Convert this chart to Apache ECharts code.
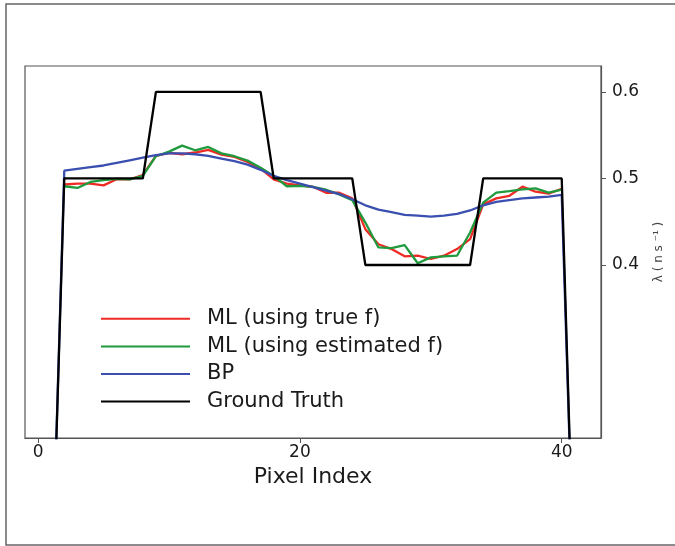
<!DOCTYPE html>
<html>
<head>
<meta charset="utf-8">
<script src="https://cdn.jsdelivr.net/npm/echarts@6/dist/echarts.min.js"></script>
<style>
  html, body { margin: 0; padding: 0; background: #fff; }
  #chart { width: 675px; height: 546px; }
</style>
</head>
<body>
<div id="chart"></div>
<script>
// Pixel positions of the reconstructed profiles
const mlPixels = [2, 3, 4, 5, 6, 7, 8, 9, 10, 11, 12, 13, 14, 15, 16, 17, 18, 19, 20, 21,
                  22, 23, 24, 25, 26, 27, 28, 29, 30, 31, 32, 33, 34, 35, 36, 37, 38, 39, 40];

// ML estimate with the true f
const mlTrueF = [0.493, 0.494, 0.494, 0.492, 0.499, 0.499, 0.504, 0.526, 0.5295, 0.528,
                 0.530, 0.533, 0.5276, 0.525, 0.519, 0.5115, 0.499, 0.494, 0.492, 0.4904,
                 0.4835, 0.4835, 0.477, 0.4414, 0.424, 0.4184, 0.410, 0.4107, 0.4069, 0.4107,
                 0.4184, 0.4299, 0.470, 0.477, 0.480, 0.4905, 0.4847, 0.4824, 0.4881];

// ML estimate with the estimated f
const mlEstF = [0.491, 0.489, 0.496, 0.498, 0.4995, 0.499, 0.503, 0.5257, 0.531, 0.538,
                0.5326, 0.5364, 0.529, 0.5257, 0.5207, 0.5123, 0.503, 0.491, 0.4915, 0.4904,
                0.487, 0.4816, 0.475, 0.449, 0.4203, 0.4195, 0.423, 0.402, 0.4088, 0.410,
                0.4107, 0.4376, 0.472, 0.4836, 0.4854, 0.4874, 0.4885, 0.4836, 0.487];

// Back-projection profile (falls to zero outside the object)
const bpPixels = [1, 2, 3, 4, 5, 6, 7, 8, 9, 10, 11, 12, 13, 14, 15, 16, 17, 18, 19, 20, 21,
                  22, 23, 24, 25, 26, 27, 28, 29, 30, 31, 32, 33, 34, 35, 36, 37, 38, 39, 40, 41];
const bpValues = [0, 0.509, 0.511, 0.513, 0.515, 0.518, 0.521, 0.524, 0.527, 0.529, 0.529,
                  0.528, 0.526, 0.523, 0.520, 0.516, 0.510, 0.503, 0.498, 0.494, 0.490,
                  0.486, 0.482, 0.476, 0.469, 0.464, 0.461, 0.458, 0.457, 0.456, 0.457,
                  0.459, 0.463, 0.469, 0.473, 0.475, 0.477, 0.478, 0.479, 0.481, 0];

// Ground truth rate per pixel
const truthPixels = bpPixels;
const truthValues = [0, 0.5, 0.5, 0.5, 0.5, 0.5, 0.5, 0.5, 0.6, 0.6, 0.6, 0.6, 0.6, 0.6, 0.6,
                     0.6, 0.6, 0.5, 0.5, 0.5, 0.5, 0.5, 0.5, 0.5, 0.4, 0.4, 0.4, 0.4, 0.4,
                     0.4, 0.4, 0.4, 0.4, 0.5, 0.5, 0.5, 0.5, 0.5, 0.5, 0.5, 0];

const xTicks = [0, 20, 40];
const yTicks = [0.4, 0.5, 0.6];

const seriesNames = ['ML (using true f)', 'ML (using estimated f)', 'BP', 'Ground Truth'];
const seriesColors = ['#ee2a24', '#1f9a3c', '#3a4fb0', '#000000'];

function pairs(xs, ys) { return xs.map((x, i) => [x, ys[i]]); }

const FONT = '"DejaVu Sans", sans-serif';
const axisGrey = '#555';

const chart = echarts.init(document.getElementById('chart'), null, { renderer: 'canvas' });

const lineSeries = [
  pairs(mlPixels, mlTrueF),
  pairs(mlPixels, mlEstF),
  pairs(bpPixels, bpValues),
  pairs(truthPixels, truthValues)
].map((data, i) => ({
  name: seriesNames[i],
  type: 'line',
  data: data,
  symbol: 'none',
  clip: true,
  lineStyle: { color: seriesColors[i], width: 2.3 },
  itemStyle: { color: seriesColors[i] },
  z: 2 + i
}));

chart.setOption({
  animation: false,
  backgroundColor: '#fff',
  textStyle: { fontFamily: FONT },
  grid: { left: 25, right: 74, top: 66, bottom: 108, show: true, borderColor: axisGrey, borderWidth: 1.2, backgroundColor: 'transparent' },
  legend: {
    orient: 'vertical',
    left: 101,
    top: 305,
    padding: 0,
    itemWidth: 89,
    itemHeight: 2,
    itemGap: 0,
    icon: 'rect',
    data: seriesNames,
    textStyle: { fontFamily: FONT, fontSize: 21, color: '#1a1a1a', lineHeight: 27.6, padding: [0, 0, 0, 12] }
  },
  xAxis: {
    type: 'value',
    min: -1,
    max: 43,
    name: 'Pixel Index',
    nameLocation: 'middle',
    nameGap: 26,
    nameTextStyle: { fontFamily: FONT, fontSize: 22, color: '#1a1a1a' },
    splitLine: { show: false },
    axisLine: { show: true, onZero: false, lineStyle: { color: axisGrey, width: 1.2 } },
    axisTick: { show: true, customValues: xTicks, length: 5, lineStyle: { color: axisGrey } },
    axisLabel: { customValues: xTicks, fontFamily: FONT, fontSize: 17, color: '#1a1a1a', margin: 6 }
  },
  yAxis: {
    type: 'value',
    position: 'right',
    min: 0.2,
    max: 0.63,
    name: 'λ ( n s ⁻¹ )',
    nameLocation: 'middle',
    nameRotate: 90,
    nameGap: 52,
    nameTextStyle: { fontFamily: FONT, fontSize: 12, color: '#444' },
    splitLine: { show: false },
    axisLine: { show: true, onZero: false, lineStyle: { color: axisGrey, width: 1.2 } },
    axisTick: { show: true, customValues: yTicks, length: 5, lineStyle: { color: axisGrey } },
    axisLabel: { customValues: yTicks, fontFamily: FONT, fontSize: 17, color: '#1a1a1a', margin: 11,
                 formatter: v => v.toFixed(1) }
  },
  graphic: [{
    type: 'rect',
    x: 6,
    y: 4,
    shape: { x: 0, y: 0, width: 700, height: 541 },
    style: { fill: 'none', stroke: '#666', lineWidth: 1.5 },
    silent: true
  }],
  series: lineSeries
});
</script>
</body>
</html>
